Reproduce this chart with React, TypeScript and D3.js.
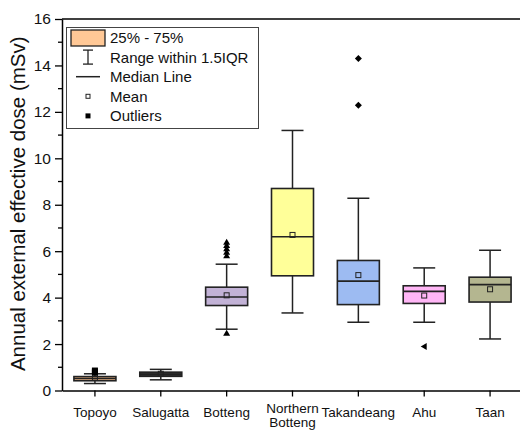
import * as d3 from 'd3';
import { useEffect, useRef } from 'react';

const categories = ['Topoyo', 'Salugatta', 'Botteng', 'Northern Botteng', 'Takandeang', 'Ahu', 'Taan'];
const q1Values = [0.42, 0.61, 3.66, 4.94, 3.7, 3.75, 3.81];
const medianValues = [0.52, 0.7, 4.03, 6.62, 4.71, 4.27, 4.56];
const q3Values = [0.6, 0.79, 4.45, 8.7, 5.6, 4.51, 4.88];
const meanValues = [0.55, 0.72, 4.1, 6.7, 4.97, 4.09, 4.36];
const whiskerLow = [0.3, 0.46, 2.64, 3.34, 2.94, 2.94, 2.22];
const whiskerHigh = [0.72, 0.91, 5.44, 11.2, 8.28, 5.28, 6.04];
const outlierValues = [[0.78, 0.82, 0.86], [], [2.47, 5.8, 5.95, 6.1, 6.25, 6.38], [], [12.28, 14.3], [1.9], []];
const outlierShapes = ['square', 'square', 'triangle', 'square', 'diamond', 'left', 'square'];
const boxColors = ['#F0B888', '#333333', '#C2B2D6', '#FFFF99', '#9DBBF2', '#FFB6F6', '#B4B690'];
const yTicks = [0, 2, 4, 6, 8, 10, 12, 14, 16];
const legendLabels = ['25% - 75%', 'Range within 1.5IQR', 'Median Line', 'Mean', 'Outliers'];

const App = () => {
  const svgRef = useRef(null);

  useEffect(() => {
    document.body.style.margin = '0';
    const svg = d3.select(svgRef.current);
    svg.selectAll('*').remove();
    const font = 'Arial, "Liberation Sans", sans-serif';
    const left = 62;
    const top = 19;
    const bottom = 390.5;

    const x = d3.scaleBand().domain(categories).range([left, 523]);
    const y = d3.scaleLinear().domain([0, 16]).range([bottom, top]);
    const boxW = 42;
    const capW = 22;
    const ink = '#222';

    // frame: top line
    svg.append('line')
      .attr('x1', left).attr('x2', 520).attr('y1', top).attr('y2', top)
      .attr('stroke', '#000').attr('stroke-width', 1.5);

    // y axis
    const yAxis = svg.append('g').attr('transform', `translate(${left},0)`);
    yAxis.call(d3.axisLeft(y).tickValues(yTicks).tickSize(7).tickSizeOuter(0).tickPadding(4))
      .call(g => g.select('.domain').attr('stroke-width', 1.5))
      .selectAll('text')
      .style('font-family', font)
      .style('font-size', '15.5px')
      .attr('fill', '#111');
    yAxis.selectAll('line').attr('stroke-width', 1.3);
    yAxis.selectAll('.minor')
      .data(d3.range(1, 16, 2))
      .enter()
      .append('line')
      .attr('x1', -4).attr('x2', 0)
      .attr('y1', d => y(d)).attr('y2', d => y(d))
      .attr('stroke', '#000').attr('stroke-width', 1.3);

    // x axis
    const xAxis = svg.append('g').attr('transform', `translate(0,${bottom})`);
    xAxis.call(d3.axisBottom(x).tickSize(6).tickSizeOuter(0).tickFormat(() => ''))
      .call(g => g.select('.domain').attr('stroke-width', 1.5));
    xAxis.selectAll('line').attr('stroke-width', 1.3);
    svg.append('g').selectAll('text')
      .data(categories)
      .enter()
      .append('text')
      .attr('text-anchor', 'middle')
      .style('font-family', font)
      .style('font-size', '13.5px')
      .attr('fill', '#111')
      .each(function (d) {
        const cx = (x(d) as number) + x.bandwidth() / 2;
        const parts = d.split(' ');
        const t = d3.select(this);
        if (parts.length === 1) {
          t.append('tspan').attr('x', cx).attr('y', 417).text(d);
        } else {
          parts.forEach((p, i) => {
            t.append('tspan').attr('x', cx).attr('y', 413 + i * 14).text(p);
          });
        }
      });

    // y title
    svg.append('text')
      .attr('transform', `translate(25,${(top + bottom) / 2 - 1}) rotate(-90)`)
      .attr('text-anchor', 'middle')
      .style('font-family', font)
      .style('font-size', '20.5px')
      .attr('fill', '#111')
      .text('Annual external effective dose (mSv)');

    // boxes
    const groups = svg.append('g');
    categories.forEach((c, i) => {
      const cx = (x(c) as number) + x.bandwidth() / 2;
      const g = groups.append('g');
      g.append('line').attr('x1', cx).attr('x2', cx)
        .attr('y1', y(whiskerHigh[i])).attr('y2', y(q3Values[i]))
        .attr('stroke', ink).attr('stroke-width', 1.5);
      g.append('line').attr('x1', cx).attr('x2', cx)
        .attr('y1', y(q1Values[i])).attr('y2', y(whiskerLow[i]))
        .attr('stroke', ink).attr('stroke-width', 1.5);
      [whiskerHigh[i], whiskerLow[i]].forEach(v => {
        g.append('line').attr('x1', cx - capW / 2).attr('x2', cx + capW / 2)
          .attr('y1', y(v)).attr('y2', y(v))
          .attr('stroke', ink).attr('stroke-width', 1.5);
      });
      g.append('rect')
        .attr('x', cx - boxW / 2).attr('width', boxW)
        .attr('y', y(q3Values[i])).attr('height', y(q1Values[i]) - y(q3Values[i]))
        .attr('fill', boxColors[i]).attr('stroke', ink).attr('stroke-width', 1.6);
      g.append('line').attr('x1', cx - boxW / 2).attr('x2', cx + boxW / 2)
        .attr('y1', y(medianValues[i])).attr('y2', y(medianValues[i]))
        .attr('stroke', ink).attr('stroke-width', 1.6);
      g.append('rect')
        .attr('x', cx - 2.5).attr('y', y(meanValues[i]) - 2.5)
        .attr('width', 5).attr('height', 5)
        .attr('fill', 'none').attr('stroke', ink).attr('stroke-width', 1);
      outlierValues[i].forEach(v => {
        const oy = y(v);
        const shape = outlierShapes[i];
        let path = '';
        if (shape === 'triangle') path = `M${cx},${oy - 3.5}L${cx + 3.5},${oy + 2.5}L${cx - 3.5},${oy + 2.5}Z`;
        else if (shape === 'diamond') path = `M${cx},${oy - 3.5}L${cx + 3.5},${oy}L${cx},${oy + 3.5}L${cx - 3.5},${oy}Z`;
        else if (shape === 'left') path = `M${cx - 3.5},${oy}L${cx + 2.5},${oy - 3.5}L${cx + 2.5},${oy + 3.5}Z`;
        else path = `M${cx - 3},${oy - 3}h6v6h-6Z`;
        g.append('path').attr('d', path).attr('fill', '#000');
      });
    });

    // legend
    const lg = svg.append('g');
    lg.append('rect')
      .attr('x', 66.5).attr('y', 27.5).attr('width', 192).attr('height', 101)
      .attr('fill', '#fff').attr('stroke', '#444').attr('stroke-width', 1);
    const rowY = (k: number) => 37.5 + k * 19.6;
    lg.append('rect')
      .attr('x', 71).attr('y', 30).attr('width', 34).attr('height', 16)
      .attr('fill', '#FFC896').attr('stroke', '#222').attr('stroke-width', 1.3);
    const ex = 88;
    lg.append('line').attr('x1', ex).attr('x2', ex).attr('y1', rowY(1) - 7).attr('y2', rowY(1) + 7)
      .attr('stroke', ink).attr('stroke-width', 1.3);
    [rowY(1) - 7, rowY(1) + 7].forEach(v => {
      lg.append('line').attr('x1', ex - 5).attr('x2', ex + 5).attr('y1', v).attr('y2', v)
        .attr('stroke', ink).attr('stroke-width', 1.3);
    });
    lg.append('line').attr('x1', 76).attr('x2', 100).attr('y1', rowY(2)).attr('y2', rowY(2))
      .attr('stroke', ink).attr('stroke-width', 1.5);
    lg.append('rect').attr('x', ex - 2).attr('y', rowY(3) - 2).attr('width', 4).attr('height', 4)
      .attr('fill', 'none').attr('stroke', ink).attr('stroke-width', 1);
    lg.append('rect').attr('x', ex - 2.5).attr('y', rowY(4) - 2.5).attr('width', 5).attr('height', 5)
      .attr('fill', '#000');
    lg.selectAll('.lt')
      .data(legendLabels)
      .enter()
      .append('text')
      .attr('x', 110)
      .attr('y', (d, k) => rowY(k) + 5.5)
      .style('font-family', font)
      .style('font-size', '15px')
      .attr('fill', '#111')
      .text(d => d);
  }, []);

  return (
    <svg ref={svgRef} width={520} height={430} style={{ display: 'block' }}></svg>
  );
};

export default App;
